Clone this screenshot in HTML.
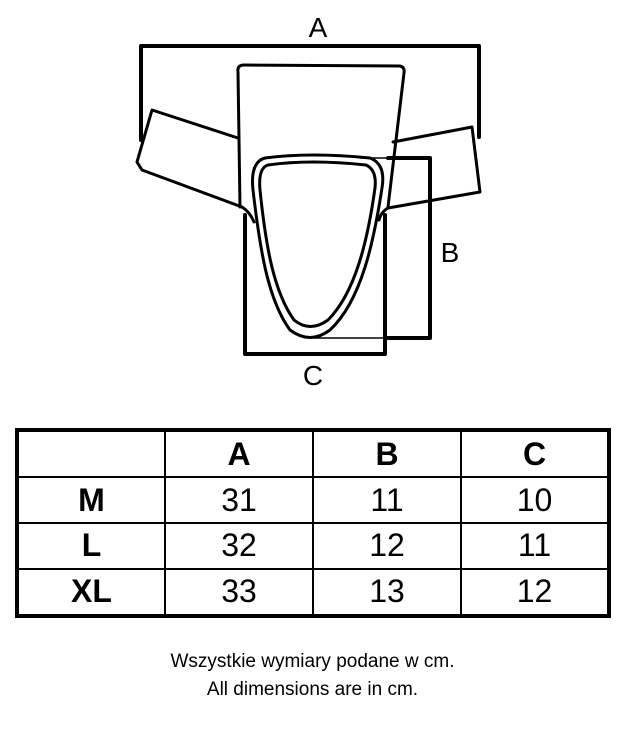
<!DOCTYPE html>
<html><head><style>
body{margin:0;width:625px;height:750px;background:#fff;font-family:"Liberation Sans",sans-serif;position:relative;overflow:hidden}
table{position:absolute;left:15px;top:428px;width:596px;height:190px;border-collapse:collapse;border:4px solid #000;table-layout:fixed}
td{border:2px solid #000;text-align:center;font-size:32px;padding:0}
.h td{font-weight:bold}
td.r{font-weight:bold}
.cap{position:absolute;left:0;width:625px;text-align:center;font-size:19px}
</style></head><body>
<svg width="625" height="400" style="position:absolute;left:0;top:0" fill="none" stroke="#000" stroke-linejoin="round" stroke-linecap="round">
<text x="318" y="37" font-size="28" fill="#000" stroke="none" text-anchor="middle" font-family="Liberation Sans">A</text>
<text x="450" y="262" font-size="28" fill="#000" stroke="none" text-anchor="middle" font-family="Liberation Sans">B</text>
<text x="313" y="385" font-size="28" fill="#000" stroke="none" text-anchor="middle" font-family="Liberation Sans">C</text>
<path d="M141 140 V46 H479 V137" stroke-width="4"/>
<path d="M388 158 H430 V338 H385" stroke-width="4"/>
<path d="M360 158 H390" stroke-width="1.5"/>
<path d="M310 338 H388" stroke-width="1.5"/>
<path d="M245 215 V354 H385 V215" stroke-width="4"/>
<path d="M240 207 L238 72 Q237 65 244 65 L400 66 Q405 67 404 73 L388 207" stroke-width="3"/>
<path d="M238 138 L152 110 L137 162 L142 170 L242 207" stroke-width="3"/>
<path d="M393 142 L472 127 L480 192 L388 208" stroke-width="3"/>
<path d="M242 207 Q250 175 262 160 Q310 152 372 160 Q388 166 384 190 Q382 205 388 208" stroke-width="0"/>
<path d="M265 158 Q310 152 370 158 Q386 164 382 188 C374 240 362 300 330 330 Q310 345 290 330 C268 300 260 250 253 190 Q250 162 265 158 Z" stroke-width="3"/>
<path d="M268 165 Q310 159 366 165 Q377 170 375 188 C368 238 356 292 328 320 Q310 333 294 320 C274 292 266 248 260 190 Q258 168 268 165 Z" stroke-width="3"/>
<path d="M242 207 Q250 212 254 222" stroke-width="3"/>
<path d="M388 208 Q381 212 379 220" stroke-width="3"/>
</svg>
<table>
<tr class="h"><td></td><td>A</td><td>B</td><td>C</td></tr>
<tr><td class="r">M</td><td>31</td><td>11</td><td>10</td></tr>
<tr><td class="r">L</td><td>32</td><td>12</td><td>11</td></tr>
<tr><td class="r">XL</td><td>33</td><td>13</td><td>12</td></tr>
</table>
<div class="cap" style="top:651px">Wszystkie wymiary podane w cm.</div>
<div class="cap" style="top:679px">All dimensions are in cm.</div>
</body></html>
